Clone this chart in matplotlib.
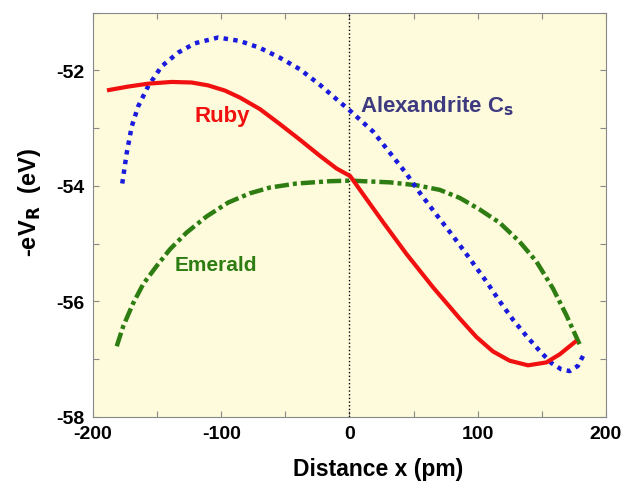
import numpy as np
import matplotlib.pyplot as plt
from matplotlib.ticker import MultipleLocator, FuncFormatter

plt.rcParams['font.family'] = ['Liberation Sans', 'DejaVu Sans']
plt.rcParams['font.weight'] = 'bold'

# Ruby curve
ruby_x = [-187.5, -172.5, -156.9, -138.7, -123.1, -110.2, -97.1, -85.5, -69.9,
          -54.3, -38.7, -23.1, -10.1, 0.5, 13.3, 26.2, 44.4, 65.2, 86, 99,
          111.9, 124.9, 139.2, 153.5, 163.9, 175.6]
ruby_y = [-52.34, -52.28, -52.23, -52.20, -52.21, -52.26, -52.35, -52.47, -52.67,
          -52.93, -53.20, -53.48, -53.70, -53.83, -54.23, -54.63, -55.18, -55.76, -56.30, -56.62,
          -56.87, -57.03, -57.11, -57.06, -56.92, -56.71]

# Alexandrite Cs curve
alex_x = [-177.2, -173.7, -169.8, -164.7, -156.9, -146.5, -133.5, -120.5, -102.4,
          -85.5, -69.9, -54.3, -38.7, -23.1, -10.1, 0.5, 18.4, 31.6, 44.4, 54.8,
          67.8, 80.7, 92.4, 106.8, 117.1, 127.5, 137.9, 148.3, 157.4, 165.2,
          171.7, 178.1, 183.4]
alex_y = [-53.96, -53.43, -52.97, -52.62, -52.27, -51.93, -51.69, -51.53, -51.43,
          -51.49, -51.61, -51.78, -51.98, -52.25, -52.50, -52.70, -53.06, -53.43, -53.79, -54.12,
          -54.50, -54.87, -55.22, -55.66, -56.00, -56.32, -56.60, -56.86, -57.07, -57.18,
          -57.21, -57.12, -56.89]

# Emerald curve
emer_x = [-181.5, -176.4, -168.6, -160.8, -150.4, -140, -127, -111.4, -94.6,
          -77.7, -62.1, -41.3, -15.3, 0.5, 31.6, 52.2, 70.4, 86, 101.5,
          117.1, 132.7, 145.7, 158.7, 169.1, 179.5]
emer_y = [-56.78, -56.43, -56.03, -55.70, -55.39, -55.10, -54.81, -54.53, -54.29,
          -54.13, -54.03, -53.96, -53.92, -53.91, -53.94, -53.99, -54.07, -54.21, -54.41,
          -54.64, -54.97, -55.31, -55.78, -56.24, -56.75]

fig = plt.figure(figsize=(6.34, 4.85), dpi=100)
ax = fig.add_axes([0.1467, 0.1388, 0.8091, 0.833])
ax.set_facecolor('#fdfbdc')

ax.axvline(0, color='black', linestyle=':', linewidth=1.0)
ax.plot(emer_x, emer_y, color='#2e7d12', linewidth=3.2,
        linestyle=(0, (3.2, 0.9, 0.9, 0.9)))
ax.plot(alex_x, alex_y, color='#1a1adc', linewidth=3.2, linestyle=(0, (1, 1.2)))
ax.plot(ruby_x, ruby_y, color='#f01010', linewidth=3.0)

ax.text(-120.5, -52.78, 'Ruby', color='#f01010', fontsize=16, fontweight='bold', va='center')
ax.text(8.3, -52.6, 'Alexandrite C$_\\mathbf{s}$', color='#3d3a80', fontsize=16,
        fontweight='bold', va='center')
ax.text(-136, -55.36, 'Emerald', color='#2e7d12', fontsize=15, fontweight='bold', va='center')

ax.set_xlim(-200, 200)
ax.set_ylim(-58, -51)
ax.xaxis.set_major_locator(MultipleLocator(50))
ax.yaxis.set_major_locator(MultipleLocator(1))
ax.xaxis.set_major_formatter(FuncFormatter(lambda v, p: f'{v:.0f}' if round(v) % 100 == 0 else ''))
ax.yaxis.set_major_formatter(FuncFormatter(lambda v, p: f'{v:.0f}' if round(v) % 2 == 0 else ''))
ax.tick_params(direction='in', length=4, width=0.8, color='#888888', top=True, right=True,
               labelsize=14, pad=6)
for s in ax.spines.values():
    s.set_color('#888888')

ax.set_xlabel('Distance x (pm)', fontsize=16.5, fontweight='bold')
ax.set_ylabel('-eV$_\\mathbf{R}$  (eV)', fontsize=17, fontweight='bold')
ax.xaxis.set_label_coords(0.5555, -0.128)
ax.xaxis.label.set_va('center')
ax.yaxis.set_label_coords(-0.123, 0.533)
ax.yaxis.label.set_va('center')

plt.savefig('out.png', dpi=100)
